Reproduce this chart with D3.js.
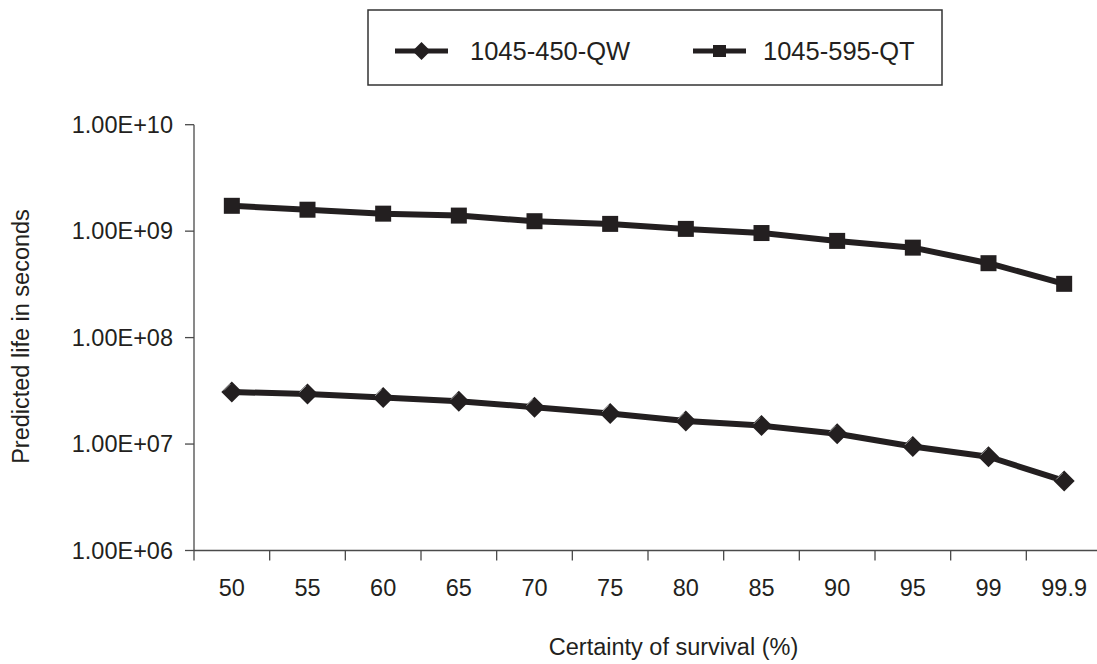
<!DOCTYPE html>
<html>
<head>
<meta charset="utf-8">
<script src="https://cdn.jsdelivr.net/npm/d3@7"></script>
<style>
  html, body { margin: 0; padding: 0; background: #fff; }
  svg { display: block; }
  text { font-family: "Liberation Sans", Arial, Helvetica, sans-serif; fill: #231f20; }
</style>
</head>
<body>
<svg id="chart" width="1097" height="664"></svg>
<script>
// ---- data ----
const categories = ["50", "55", "60", "65", "70", "75", "80", "85", "90", "95", "99", "99.9"];
const seriesQW = [3.08e7, 2.96e7, 2.74e7, 2.53e7, 2.22e7, 1.94e7, 1.65e7, 1.49e7, 1.25e7, 9.5e6, 7.6e6, 4.5e6];
const seriesQT = [1.73e9, 1.59e9, 1.46e9, 1.40e9, 1.24e9, 1.17e9, 1.05e9, 9.6e8, 8.1e8, 7.0e8, 5.0e8, 3.2e8];
const seriesNames = ["1045-450-QW", "1045-595-QT"];
const yTickValues = [1e6, 1e7, 1e8, 1e9, 1e10];
const yTickLabels = ["1.00E+06", "1.00E+07", "1.00E+08", "1.00E+09", "1.00E+10"];
const xTitle = "Certainty of survival (%)";
const yTitle = "Predicted life in seconds";

// ---- layout ----
const svg = d3.select("#chart");
const ink = "#231f20";
const axisColor = "#4a4a4a";
const plot = { left: 194, right: 1102, top: 124.7, bottom: 550.5 };

const x = d3.scaleBand().domain(categories).range([plot.left, plot.right]).padding(0);
const y = d3.scaleLog().domain([1e6, 1e10]).range([plot.bottom, plot.top]);
const cx = d => x(d) + x.bandwidth() / 2;

// ---- axes ----
const gAxes = svg.append("g");
gAxes.append("line")
  .attr("x1", plot.left).attr("x2", plot.left)
  .attr("y1", y(1e10)).attr("y2", y(1e6))
  .attr("stroke", axisColor).attr("stroke-width", 1.3);
gAxes.append("line")
  .attr("x1", plot.left).attr("x2", plot.right)
  .attr("y1", y(1e6)).attr("y2", y(1e6))
  .attr("stroke", axisColor).attr("stroke-width", 1.3);

yTickValues.forEach((v, i) => {
  gAxes.append("line")
    .attr("x1", plot.left - 9).attr("x2", plot.left)
    .attr("y1", y(v)).attr("y2", y(v))
    .attr("stroke", axisColor).attr("stroke-width", 1.3);
  gAxes.append("text")
    .attr("x", plot.left - 21).attr("y", y(v))
    .attr("dy", "0.35em")
    .attr("text-anchor", "end")
    .attr("font-size", 23.5)
    .text(yTickLabels[i]);
});

categories.forEach(c => {
  gAxes.append("line")
    .attr("x1", x(c)).attr("x2", x(c))
    .attr("y1", y(1e6)).attr("y2", y(1e6) + 10)
    .attr("stroke", axisColor).attr("stroke-width", 1.3);
  gAxes.append("text")
    .attr("x", cx(c)).attr("y", 596)
    .attr("text-anchor", "middle")
    .attr("font-size", 23.5)
    .text(c);
});

svg.append("text")
  .attr("x", 673.5).attr("y", 655)
  .attr("text-anchor", "middle")
  .attr("font-size", 23.5)
  .text(xTitle);
svg.append("text")
  .attr("transform", "translate(29,336.5) rotate(-90)")
  .attr("text-anchor", "middle")
  .attr("font-size", 23.5)
  .text(yTitle);

// ---- series ----
const line = d3.line().x((d, i) => cx(categories[i])).y(d => y(d));
const diamondPath = (r) => `M0,${-r}L${r},0L0,${r}L${-r},0Z`;

function drawSeries(values, marker) {
  const g = svg.append("g");
  g.append("path")
    .datum(values)
    .attr("d", line)
    .attr("fill", "none")
    .attr("stroke", ink)
    .attr("stroke-width", 6)
    .attr("stroke-linejoin", "round");
  const m = g.selectAll("g.m").data(values).enter().append("g")
    .attr("transform", (d, i) => `translate(${cx(categories[i])},${y(d)})`);
  if (marker === "diamond") {
    m.append("path").attr("d", diamondPath(10.5)).attr("fill", ink);
    m.append("path").attr("d", "M-8,-1.5L-1.5,-8")
      .attr("stroke", "#9a9a9a").attr("stroke-width", 1).attr("fill", "none");
  } else {
    m.append("rect").attr("x", -8).attr("y", -8).attr("width", 16).attr("height", 16).attr("fill", ink);
  }
}
drawSeries(seriesQW, "diamond");
drawSeries(seriesQT, "square");

// ---- legend ----
const legend = svg.append("g");
legend.append("rect")
  .attr("x", 368).attr("y", 10).attr("width", 574).attr("height", 75)
  .attr("fill", "#fff").attr("stroke", "#333").attr("stroke-width", 1.5);

const legendItems = [
  { name: seriesNames[0], x0: 395, x1: 448, tx: 470, marker: "diamond" },
  { name: seriesNames[1], x0: 693, x1: 746, tx: 763, marker: "square" }
];
legendItems.forEach(it => {
  const ly = 51;
  legend.append("line")
    .attr("x1", it.x0).attr("x2", it.x1).attr("y1", ly).attr("y2", ly)
    .attr("stroke", ink).attr("stroke-width", 5);
  const mx = (it.x0 + it.x1) / 2;
  if (it.marker === "diamond") {
    legend.append("path").attr("d", diamondPath(9)).attr("transform", `translate(${mx},${ly})`).attr("fill", ink);
  } else {
    legend.append("rect").attr("x", mx - 6.5).attr("y", ly - 6).attr("width", 13).attr("height", 12).attr("fill", ink);
  }
  legend.append("text")
    .attr("x", it.tx).attr("y", 60)
    .attr("font-size", 25.5)
    .text(it.name);
});
</script>
</body>
</html>
